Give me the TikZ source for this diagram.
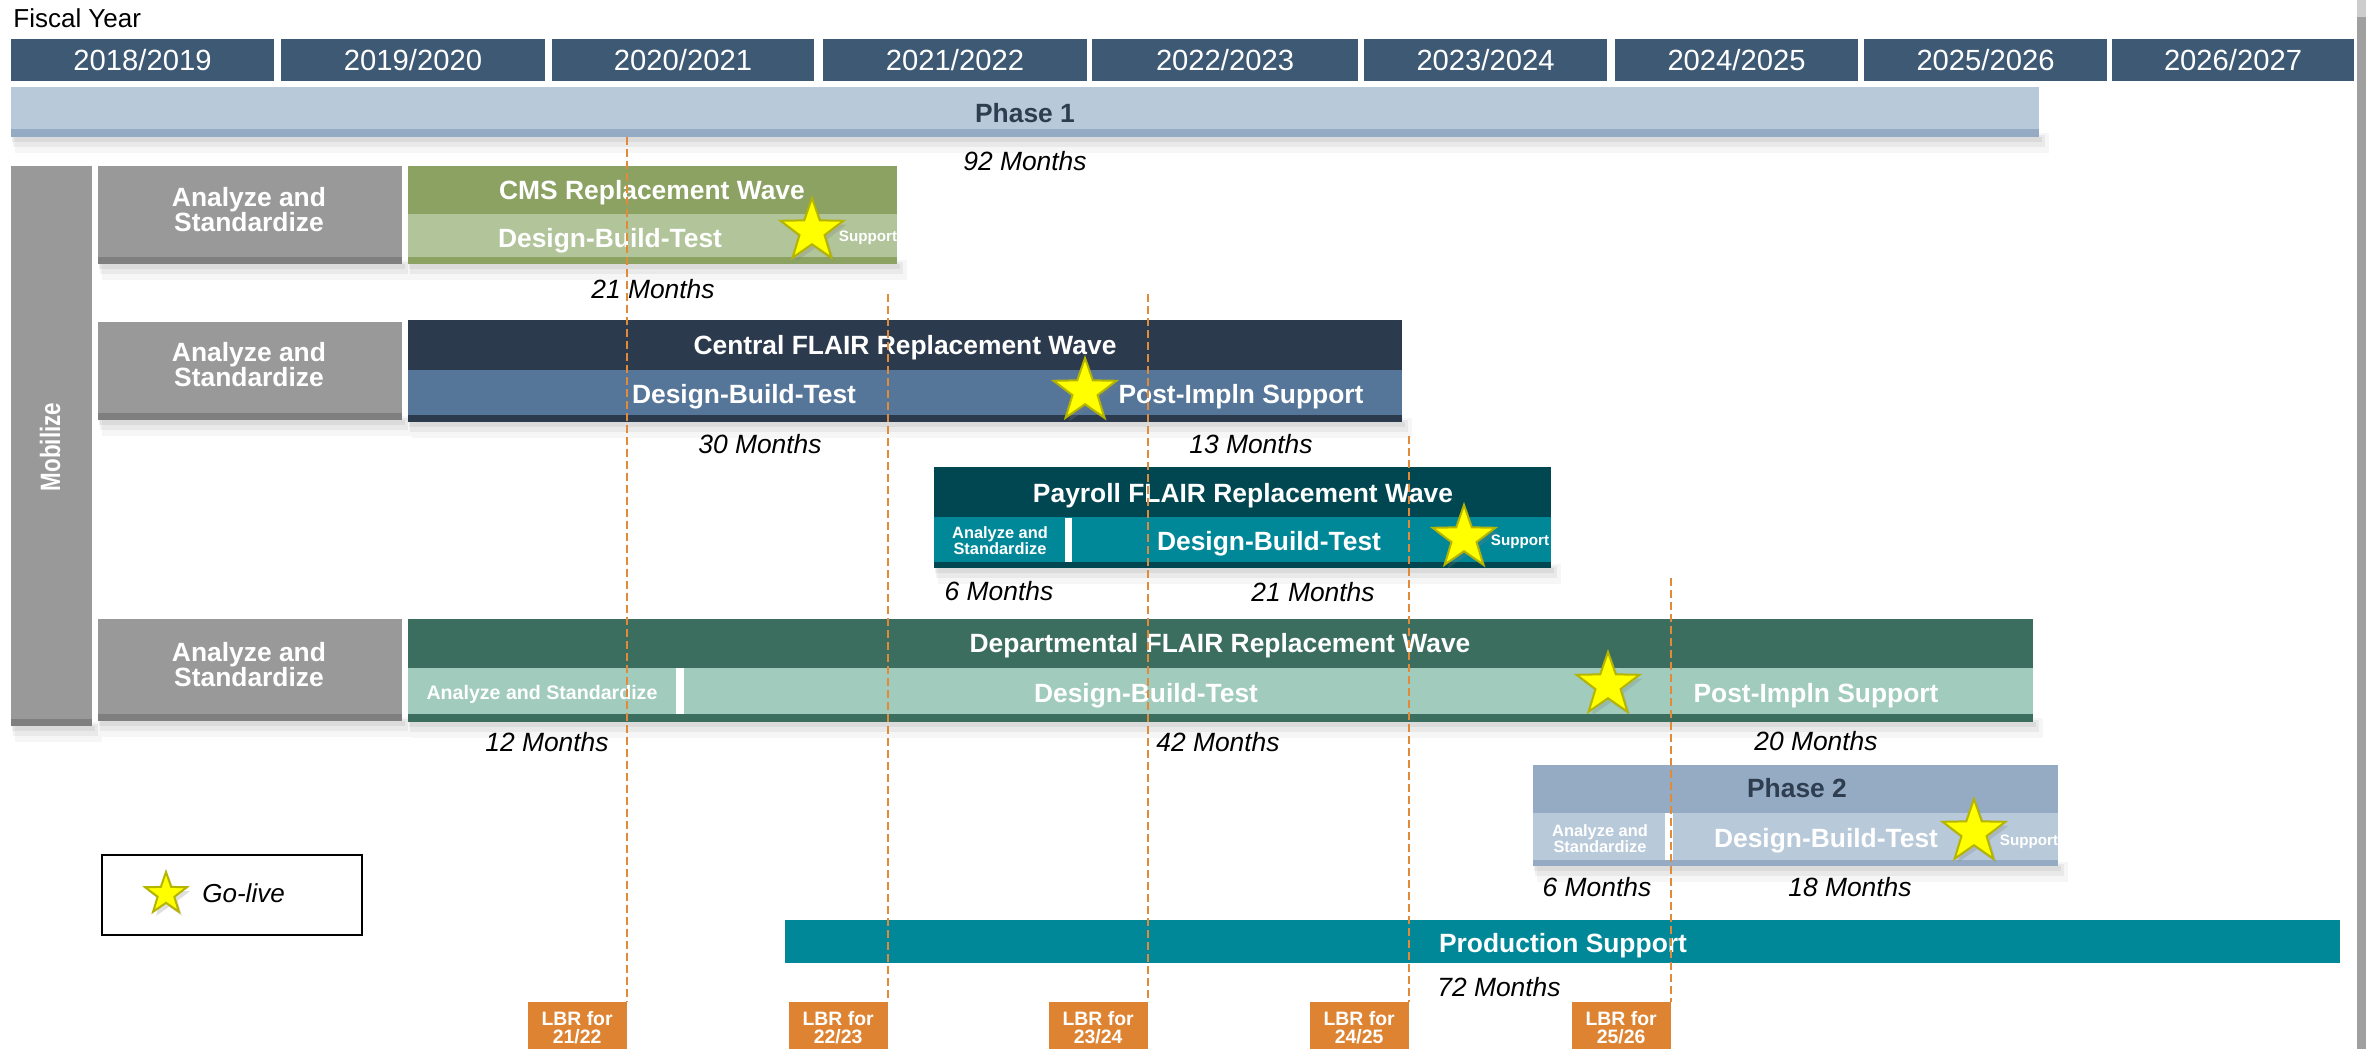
\documentclass[tikz,border=0pt]{standalone}
\usepackage{graphicx}
\usepackage{fontspec}
\setmainfont{Liberation Sans}
\usetikzlibrary{shapes.geometric,shadows}
\definecolor{yearbg}{RGB}{61,89,116}
\definecolor{phL}{RGB}{184,201,217}
\definecolor{phD}{RGB}{149,171,196}
\definecolor{phtext}{RGB}{46,62,80}
\definecolor{grT}{RGB}{153,153,153}
\definecolor{grS}{RGB}{127,127,127}
\definecolor{cmsT}{RGB}{139,162,98}
\definecolor{cmsL}{RGB}{177,196,154}
\definecolor{cenT}{RGB}{44,58,78}
\definecolor{cenL}{RGB}{85,118,153}
\definecolor{payT}{RGB}{0,71,81}
\definecolor{payL}{RGB}{0,136,152}
\definecolor{depT}{RGB}{59,110,94}
\definecolor{depL}{RGB}{160,203,189}
\definecolor{prod}{RGB}{0,136,152}
\definecolor{lbrorange}{RGB}{222,131,49}
\definecolor{lbrdash}{RGB}{224,138,58}
\definecolor{starY}{RGB}{255,255,0}
\definecolor{starE}{RGB}{181,181,0}
\definecolor{edgeD}{RGB}{160,160,160}
\definecolor{edgeL}{RGB}{205,205,205}
\newcommand\mkshadow[4]{%
  \fill[black,opacity=0.035] (#1+4,#4-4) rectangle (#3+10,#4+16);
  \fill[black,opacity=0.05] (#1+2,#4-2) rectangle (#3+6,#4+10);
  \fill[black,opacity=0.06] (#1+1,#4) rectangle (#3+3,#4+5);}
\tikzset{
  ttl/.style={inner sep=0, text=white, font=\bfseries\fontsize{13.2}{12.5}\selectfont},
  mon/.style={inner sep=0, text=black, font=\itshape\fontsize{13.2}{15}\selectfont},
  smallas/.style={inner sep=0, text=white, align=center, font=\bfseries\fontsize{8.2}{8}\selectfont},
  sup/.style={inner sep=0, text=white, font=\bfseries\fontsize{7.6}{8}\selectfont},
  yr/.style={fill=yearbg, text=white, inner sep=0, minimum height=21pt, font=\fontsize{14.6}{16}\selectfont},
  golive/.style={star, star points=5, star point ratio=2.5, inner sep=0, fill=starY, draw=starE, line width=1pt, minimum size=33pt, drop shadow={opacity=0.25, shadow xshift=1.5pt, shadow yshift=-2pt}},
  lbrbox/.style={fill=lbrorange, text=white, inner sep=0, minimum width=49.5pt, minimum height=25pt, anchor=north east, align=center, font=\bfseries\fontsize{9.7}{9}\selectfont},
  lbrline/.style={draw=lbrdash, line width=1pt, dash pattern=on 4pt off 2pt}
}
\begin{document}
\begin{tikzpicture}[x=0.5pt,y=-0.5pt]
\useasboundingbox (0,0) rectangle (2366,1049);
\fill[white] (0,0) rectangle (2366,1049);
% right edge
\fill[edgeL] (2357,0) rectangle (2366,17);
\fill[edgeD] (2357,17) rectangle (2366,1049);

% title and fiscal years
\node[anchor=base west, inner sep=0, font=\fontsize{13}{15}\selectfont] (fy) at (13,27) {Fiscal Year};
\node[yr, minimum width=131.5pt] (y1) at (142.5,60) {2018/2019};
\node[yr, minimum width=132pt] (y2) at (413,60) {2019/2020};
\node[yr, minimum width=131pt] (y3) at (683,60) {2020/2021};
\node[yr, minimum width=132pt] (y4) at (955,60) {2021/2022};
\node[yr, minimum width=133pt] (y5) at (1225,60) {2022/2023};
\node[yr, minimum width=121.5pt] (y6) at (1485.5,60) {2023/2024};
\node[yr, minimum width=121.5pt] (y7) at (1736.5,60) {2024/2025};
\node[yr, minimum width=121.5pt] (y8) at (1985.5,60) {2025/2026};
\node[yr, minimum width=121pt] (y9) at (2233,60) {2026/2027};

% Phase 1
\mkshadow{11}{87}{2039}{137}
\fill[phL] (11,87) rectangle (2039,129);
\fill[phD] (11,129) rectangle (2039,137);
\node[ttl, text=phtext, anchor=base] (p1) at (1025,122) {Phase 1};
\node[mon, anchor=base] (m92) at (1025,170) {92 Months};

% Mobilize
\mkshadow{11}{166}{92}{726}
\fill[grT] (11,166) rectangle (92,719);
\fill[grS] (11,719) rectangle (92,726);
\node[inner sep=0, text=white, rotate=90, font=\bfseries\fontsize{14}{16}\selectfont] (mob) at (50,447) {\scalebox{0.8}[1]{Mobilize}};

% Analyze boxes
\mkshadow{98}{166}{402}{264}
\fill[grT] (98,166) rectangle (402,257);
\fill[grS] (98,257) rectangle (402,264);
\node[ttl, align=center] (as1) at (249,210) {Analyze and\\Standardize};
\mkshadow{98}{322}{402}{420}
\fill[grT] (98,322) rectangle (402,413);
\fill[grS] (98,413) rectangle (402,420);
\node[ttl, align=center] (as2) at (249,365) {Analyze and\\Standardize};
\mkshadow{98}{619}{402}{721}
\fill[grT] (98,619) rectangle (402,714);
\fill[grS] (98,714) rectangle (402,721);
\node[ttl, align=center] (as4) at (249,665) {Analyze and\\Standardize};

% CMS wave
\mkshadow{408}{166}{897}{264}
\fill[cmsT] (408,166) rectangle (897,214);
\fill[cmsL] (408,214) rectangle (897,257);
\fill[cmsT] (408,257) rectangle (897,264);
\node[ttl, anchor=base] (cmst) at (652,199) {CMS Replacement Wave};
\node[ttl, anchor=base] (cmsd) at (610,247) {Design-Build-Test};
\node[sup, anchor=base] (cmss) at (868,241) {Support};
\node[mon, anchor=base] (m21a) at (653,298) {21 Months};

% Central wave
\mkshadow{408}{320}{1402}{422}
\fill[cenT] (408,320) rectangle (1402,370);
\fill[cenL] (408,370) rectangle (1402,415);
\fill[cenT] (408,415) rectangle (1402,422);
\node[ttl, anchor=base] (cent) at (905,354) {Central FLAIR Replacement Wave};
\node[ttl, anchor=base] (cend) at (744,403) {Design-Build-Test};
\node[ttl, anchor=base] (cenp) at (1241,403) {Post-Impln Support};
\node[mon, anchor=base] (m30) at (760,453) {30 Months};
\node[mon, anchor=base] (m13) at (1251,453) {13 Months};

% Payroll wave
\mkshadow{934}{467}{1551}{568}
\fill[payT] (934,467) rectangle (1551,517);
\fill[payL] (934,517) rectangle (1551,562);
\fill[payT] (934,562) rectangle (1551,568);
\fill[white] (1065,518) rectangle (1072,562);
\node[ttl, anchor=base] (payt) at (1243,502) {Payroll FLAIR Replacement Wave};
\node[smallas] (paya) at (1000,541) {Analyze and\\Standardize};
\node[ttl, anchor=base] (payd) at (1269,550) {Design-Build-Test};
\node[sup, anchor=base] (pays) at (1520,545) {Support};
\node[mon, anchor=base] (m6a) at (999,600) {6 Months};
\node[mon, anchor=base] (m21b) at (1313,601) {21 Months};

% Departmental wave
\mkshadow{408}{619}{2033}{722}
\fill[depT] (408,619) rectangle (2033,668);
\fill[depL] (408,668) rectangle (2033,714);
\fill[depT] (408,714) rectangle (2033,722);
\fill[white] (676,668) rectangle (684,714);
\node[ttl, anchor=base] (dept) at (1220,652) {Departmental FLAIR Replacement Wave};
\node[inner sep=0, text=white, anchor=base, font=\bfseries\fontsize{9.8}{11}\selectfont] (depa) at (542,699) {Analyze and Standardize};
\node[ttl, anchor=base] (depd) at (1146,702) {Design-Build-Test};
\node[ttl, anchor=base] (depp) at (1816,702) {Post-Impln Support};
\node[mon, anchor=base] (m12) at (547,751) {12 Months};
\node[mon, anchor=base] (m42) at (1218,751) {42 Months};
\node[mon, anchor=base] (m20) at (1816,750) {20 Months};

% Phase 2
\mkshadow{1533}{765}{2058}{866}
\fill[phD] (1533,765) rectangle (2058,813);
\fill[phL] (1533,813) rectangle (2058,860);
\fill[phD] (1533,860) rectangle (2058,866);
\fill[white] (1665,813) rectangle (1673,860);
\node[ttl, text=phtext, anchor=base] (p2) at (1797,797) {Phase 2};
\node[smallas] (p2a) at (1600,839) {Analyze and\\Standardize};
\node[ttl, anchor=base] (p2d) at (1826,847) {Design-Build-Test};
\node[sup, anchor=base] (p2s) at (2029,845) {Support};
\node[mon, anchor=base] (m6b) at (1597,896) {6 Months};
\node[mon, anchor=base] (m18) at (1850,896) {18 Months};

% Production support
\fill[prod] (785,920) rectangle (2340,963);
\node[ttl, anchor=base] (prs) at (1563,952) {Production Support};
\node[mon, anchor=base] (m72) at (1499,996) {72 Months};

% Legend
\node[draw=black, line width=1pt, minimum width=130pt, minimum height=40pt, inner sep=0] (legend) at (232,895) {};
\node[golive, minimum size=22pt] (lstar) at (166,894) {};
\node[inner sep=0, anchor=base west, font=\itshape\fontsize{13}{15}\selectfont] (gl) at (202,902) {Go-live};

% LBR boxes
\node[lbrbox] (lbr1) at (627,1002) {LBR for\\21/22};
\node[lbrbox] (lbr2) at (888,1002) {LBR for\\22/23};
\node[lbrbox] (lbr3) at (1148,1002) {LBR for\\23/24};
\node[lbrbox] (lbr4) at (1409,1002) {LBR for\\24/25};
\node[lbrbox] (lbr5) at (1671,1002) {LBR for\\25/26};
\coordinate (t1) at (627,137);
\coordinate (t2) at (888,294);
\coordinate (t3) at (1148,294);
\coordinate (t4) at (1409,436);
\coordinate (t5) at (1671,578);
\draw[lbrline] (t1) -- (lbr1.north east);
\draw[lbrline] (t2) -- (lbr2.north east);
\draw[lbrline] (t3) -- (lbr3.north east);
\draw[lbrline] (t4) -- (lbr4.north east);
\draw[lbrline] (t5) -- (lbr5.north east);

% Go-live stars
\node[golive] (s1) at (812,231) {};
\node[golive] (s2) at (1085,391) {};
\node[golive] (s3) at (1464,538) {};
\node[golive] (s4) at (1608,685) {};
\node[golive] (s5) at (1974,832) {};
\end{tikzpicture}
\end{document}
